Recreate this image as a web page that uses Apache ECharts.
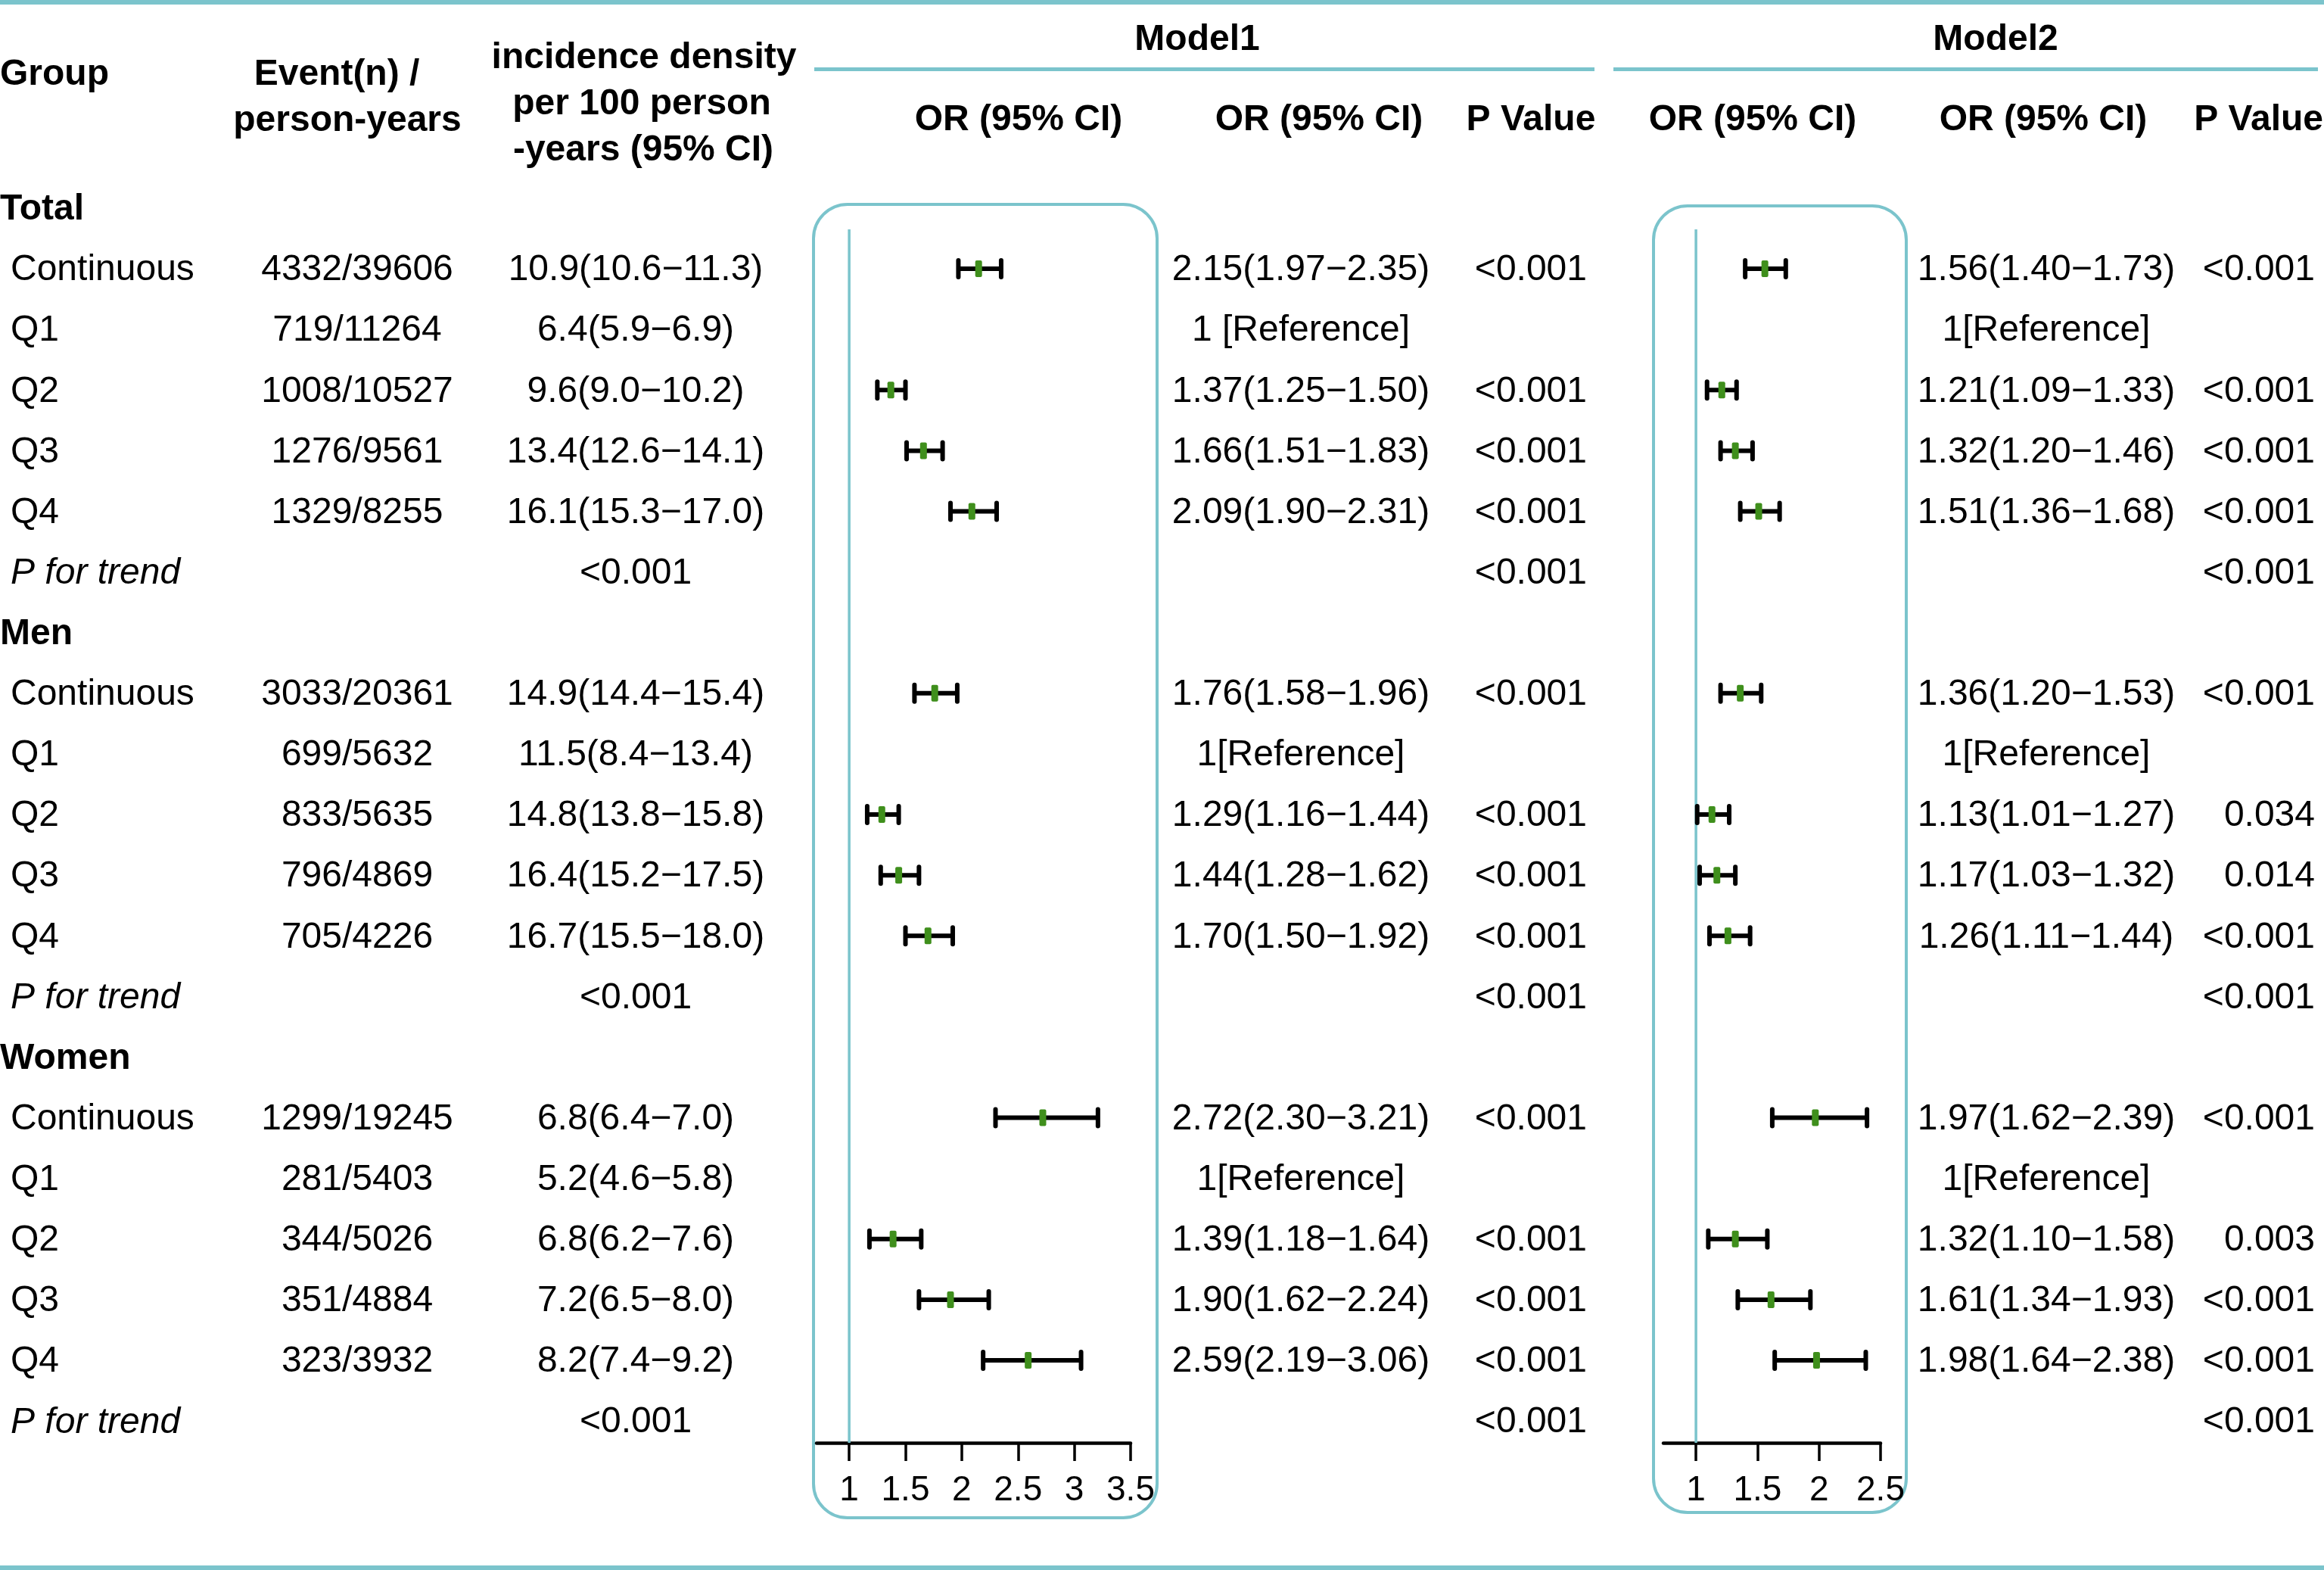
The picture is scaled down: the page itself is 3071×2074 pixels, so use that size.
<!DOCTYPE html>
<html>
<head>
<meta charset="utf-8">
<script src="https://cdn.jsdelivr.net/npm/echarts@6/dist/echarts.min.js"></script>
<style>
html,body{margin:0;padding:0;background:#fff;}
#main{width:3071px;height:2074px;}
</style>
</head>
<body>
<div id="main"></div>
<script>
// ---- data ----
var groups = ['Total', 'Men', 'Women'];
var levels = ['Continuous', 'Q1', 'Q2', 'Q3', 'Q4'];
var trendLabel = 'P for trend';

var eventsPY = [
	['4332/39606', '719/11264', '1008/10527', '1276/9561', '1329/8255'],
	['3033/20361', '699/5632', '833/5635', '796/4869', '705/4226'],
	['1299/19245', '281/5403', '344/5026', '351/4884', '323/3932']
];
// incidence density per 100 person-years (95% CI)
var incRate = [[10.9, 6.4, 9.6, 13.4, 16.1], [14.9, 11.5, 14.8, 16.4, 16.7], [6.8, 5.2, 6.8, 7.2, 8.2]];
var incLow = [[10.6, 5.9, 9.0, 12.6, 15.3], [14.4, 8.4, 13.8, 15.2, 15.5], [6.4, 4.6, 6.2, 6.5, 7.4]];
var incHigh = [[11.3, 6.9, 10.2, 14.1, 17.0], [15.4, 13.4, 15.8, 17.5, 18.0], [7.0, 5.8, 7.6, 8.0, 9.2]];
var incTrendP = ['<0.001', '<0.001', '<0.001'];

// Model1 (Q1 = reference)
var m1Or = [[2.15, null, 1.37, 1.66, 2.09], [1.76, null, 1.29, 1.44, 1.70], [2.72, null, 1.39, 1.90, 2.59]];
var m1Low = [[1.97, null, 1.25, 1.51, 1.90], [1.58, null, 1.16, 1.28, 1.50], [2.30, null, 1.18, 1.62, 2.19]];
var m1High = [[2.35, null, 1.50, 1.83, 2.31], [1.96, null, 1.44, 1.62, 1.92], [3.21, null, 1.64, 2.24, 3.06]];
var m1Ref = ['1 [Reference]', '1[Reference]', '1[Reference]'];
var m1P = [
	['<0.001', '', '<0.001', '<0.001', '<0.001'],
	['<0.001', '', '<0.001', '<0.001', '<0.001'],
	['<0.001', '', '<0.001', '<0.001', '<0.001']
];
var m1TrendP = ['<0.001', '<0.001', '<0.001'];

// Model2
var m2Or = [[1.56, null, 1.21, 1.32, 1.51], [1.36, null, 1.13, 1.17, 1.26], [1.97, null, 1.32, 1.61, 1.98]];
var m2Low = [[1.40, null, 1.09, 1.20, 1.36], [1.20, null, 1.01, 1.03, 1.11], [1.62, null, 1.10, 1.34, 1.64]];
var m2High = [[1.73, null, 1.33, 1.46, 1.68], [1.53, null, 1.27, 1.32, 1.44], [2.39, null, 1.58, 1.93, 2.38]];
var m2Ref = ['1[Reference]', '1[Reference]', '1[Reference]'];
var m2P = [
	['<0.001', '', '<0.001', '<0.001', '<0.001'],
	['<0.001', '', '0.034', '0.014', '<0.001'],
	['<0.001', '', '0.003', '<0.001', '<0.001']
];
var m2TrendP = ['<0.001', '<0.001', '<0.001'];

var m1Ticks = [1, 1.5, 2, 2.5, 3, 3.5];
var m2Ticks = [1, 1.5, 2, 2.5];

// ---- layout / style ----
var teal = '#7bc4cc';
var FONT = '48px "Liberation Sans", Arial, sans-serif';
var BOLD = 'bold 48px "Liberation Sans", Arial, sans-serif';
var ITALIC = 'italic 48px "Liberation Sans", Arial, sans-serif';
var rowMin = 0.35, rowMax = 20.36;   //行轴范围
var gridTop = 303, gridBottom = 168;

// 行: 组标题 + 5个水平 + 趋势P
var rows = [];
groups.forEach(function (g, gi) {
	rows.push({kind: 'group', g: gi});
	levels.forEach(function (l, li) {
		rows.push({kind: 'level', g: gi, l: li});
	});
	rows.push({kind: 'trend', g: gi});
});

function ci(v, lo, hi, d) {
	return v.toFixed(d) + '(' + lo.toFixed(d) + '\u2212' + hi.toFixed(d) + ')';
}

var columns = [
	{x: 0, align: 'left', font: BOLD, text: function (r) {
		return r.kind === 'group' ? groups[r.g] : null;
	}},
	{x: 14, align: 'left', font: FONT, text: function (r) {
		return r.kind === 'level' ? levels[r.l] : null;
	}},
	{x: 14, align: 'left', font: ITALIC, text: function (r) {
		return r.kind === 'trend' ? trendLabel : null;
	}},
	{x: 472, align: 'center', font: FONT, text: function (r) {
		return r.kind === 'level' ? eventsPY[r.g][r.l] : null;
	}},
	{x: 840, align: 'center', font: FONT, text: function (r) {
		if (r.kind === 'level') return ci(incRate[r.g][r.l], incLow[r.g][r.l], incHigh[r.g][r.l], 1);
		if (r.kind === 'trend') return incTrendP[r.g];
		return null;
	}},
	{x: 1719, align: 'center', font: FONT, text: function (r) {
		if (r.kind !== 'level') return null;
		if (m1Or[r.g][r.l] == null) return m1Ref[r.g];
		return ci(m1Or[r.g][r.l], m1Low[r.g][r.l], m1High[r.g][r.l], 2);
	}},
	{x: 2097, align: 'right', font: FONT, text: function (r) {
		if (r.kind === 'level') return m1P[r.g][r.l] || null;
		if (r.kind === 'trend') return m1TrendP[r.g];
		return null;
	}},
	{x: 2704, align: 'center', font: FONT, text: function (r) {
		if (r.kind !== 'level') return null;
		if (m2Or[r.g][r.l] == null) return m2Ref[r.g];
		return ci(m2Or[r.g][r.l], m2Low[r.g][r.l], m2High[r.g][r.l], 2);
	}},
	{x: 3059, align: 'right', font: FONT, text: function (r) {
		if (r.kind === 'level') return m2P[r.g][r.l] || null;
		if (r.kind === 'trend') return m2TrendP[r.g];
		return null;
	}}
];

var series = [];

//表格文字列
columns.forEach(function (col) {
	var items = [], texts = [];
	rows.forEach(function (r, i) {
		var t = col.text(r);
		if (t) {
			items.push([col.x, i]);
			texts.push(t);
		}
	});
	series.push({
		type: 'custom',
		xAxisIndex: 0,
		yAxisIndex: 0,
		silent: true,
		data: items,
		renderItem: function (params, api) {
			var p = api.coord([api.value(0), api.value(1)]);
			return {
				type: 'text',
				x: p[0],
				y: p[1] + 2,
				style: {
					text: texts[params.dataIndex],
					font: col.font,
					fill: '#000',
					textAlign: col.align,
					textVerticalAlign: 'middle'
				}
			};
		}
	});
});

function forestData(or, lo, hi) {
	var data = [];
	rows.forEach(function (r, i) {
		if (r.kind === 'level' && or[r.g][r.l] != null) {
			data.push([or[r.g][r.l], lo[r.g][r.l], hi[r.g][r.l], i]);
		}
	});
	return data;
}

function renderBar(params, api) {
	var y = api.value(3);
	var c = api.coord([api.value(0), y]);
	var a = api.coord([api.value(1), y]);
	var b = api.coord([api.value(2), y]);
	return {
		type: 'group',
		children: [
			{type: 'line', shape: {x1: a[0], y1: a[1], x2: b[0], y2: b[1]},
				style: {stroke: '#000', lineWidth: 6}},
			{type: 'line', shape: {x1: a[0], y1: a[1] - 11, x2: a[0], y2: a[1] + 11},
				style: {stroke: '#000', lineWidth: 6, lineCap: 'round'}},
			{type: 'line', shape: {x1: b[0], y1: b[1] - 11, x2: b[0], y2: b[1] + 11},
				style: {stroke: '#000', lineWidth: 6, lineCap: 'round'}},
			{type: 'rect', shape: {x: c[0] - 4.5, y: c[1] - 11, width: 9, height: 22, r: 2},
				style: {fill: '#3f8f1c'}}
		]
	};
}

[[m1Or, m1Low, m1High], [m2Or, m2Low, m2High]].forEach(function (m, k) {
	var idx = k + 1;
	//参考线 OR=1
	series.push({
		type: 'line',
		xAxisIndex: idx,
		yAxisIndex: idx,
		silent: true,
		symbol: 'none',
		z: 1,
		lineStyle: {color: teal, width: 3.5},
		data: [[1, rowMin], [1, rowMax]]
	});
	series.push({
		type: 'custom',
		xAxisIndex: idx,
		yAxisIndex: idx,
		silent: true,
		z: 3,
		encode: {x: [0, 1, 2], y: 3},
		data: forestData(m[0], m[1], m[2]),
		renderItem: renderBar
	});
});

function forestX(gridIndex, min, max, ticks) {
	return {
		gridIndex: gridIndex,
		type: 'value',
		min: min,
		max: max,
		splitLine: {show: false},
		axisLine: {show: true, onZero: false, lineStyle: {color: '#000', width: 4.5}},
		axisTick: {show: true, customValues: ticks, length: 24, lineStyle: {color: '#000', width: 3.5}},
		axisLabel: {
			customValues: ticks,
			margin: 40,
			color: '#000',
			fontSize: 46,
			fontFamily: '"Liberation Sans Narrow", "Liberation Sans", Arial, sans-serif'
		}
	};
}

function rowY(gridIndex) {
	return {gridIndex: gridIndex, type: 'value', inverse: true, min: rowMin, max: rowMax, show: false};
}

function headerText(txt, x, y, align, font) {
	return {
		type: 'text',
		x: x,
		y: y,
		silent: true,
		style: {text: txt, font: font || BOLD, fill: '#000', textAlign: align || 'center', textVerticalAlign: 'middle'}
	};
}

var option = {
	animation: false,
	backgroundColor: '#fff',
	grid: [
		{left: 0, right: 0, top: gridTop, bottom: gridBottom, containLabel: false, outerBoundsMode: 'none'},
		{left: 1079, width: 415, top: gridTop, bottom: gridBottom, containLabel: false, outerBoundsMode: 'none'},
		{left: 2198, width: 287, top: gridTop, bottom: gridBottom, containLabel: false, outerBoundsMode: 'none'}
	],
	xAxis: [
		{gridIndex: 0, type: 'value', min: 0, max: 3071, show: false},
		forestX(1, 0.71, 3.5, m1Ticks),
		forestX(2, 0.735, 2.5, m2Ticks)
	],
	yAxis: [rowY(0), rowY(1), rowY(2)],
	graphic: [
		//上下边线
		{type: 'rect', shape: {x: 0, y: 0, width: 3071, height: 6}, style: {fill: teal}, silent: true},
		{type: 'rect', shape: {x: 0, y: 2068, width: 3071, height: 6}, style: {fill: teal}, silent: true},
		//Model 下划线
		{type: 'rect', shape: {x: 1076, y: 89, width: 1031, height: 5}, style: {fill: teal}, silent: true},
		{type: 'rect', shape: {x: 2132, y: 89, width: 931, height: 5}, style: {fill: teal}, silent: true},
		//森林图圆角框
		{type: 'rect', shape: {x: 1075, y: 270, width: 454, height: 1735, r: 45},
			style: {fill: 'none', stroke: teal, lineWidth: 4}, silent: true, z: -1},
		{type: 'rect', shape: {x: 2185, y: 272, width: 334, height: 1726, r: 45},
			style: {fill: 'none', stroke: teal, lineWidth: 4}, silent: true, z: -1},
		//表头
		headerText('Group', 0, 99, 'left'),
		headerText('Event(n) /', 445, 99),
		headerText('person-years', 459, 160),
		headerText('incidence density', 851, 77),
		headerText('per 100 person', 848, 138),
		headerText('-years (95% CI)', 850, 199),
		headerText('Model1', 1582, 53),
		headerText('Model2', 2637, 53),
		headerText('OR (95% CI)', 1346, 159),
		headerText('OR (95% CI)', 1743, 159),
		headerText('P Value', 2023, 159),
		headerText('OR (95% CI)', 2316, 159),
		headerText('OR (95% CI)', 2700, 159),
		headerText('P Value', 3070, 159, 'right')
	],
	series: series
};

var myChart = echarts.init(document.getElementById('main'));
myChart.setOption(option);
window.addEventListener('resize', function () {
	myChart.resize();
});
</script>
</body>
</html>
